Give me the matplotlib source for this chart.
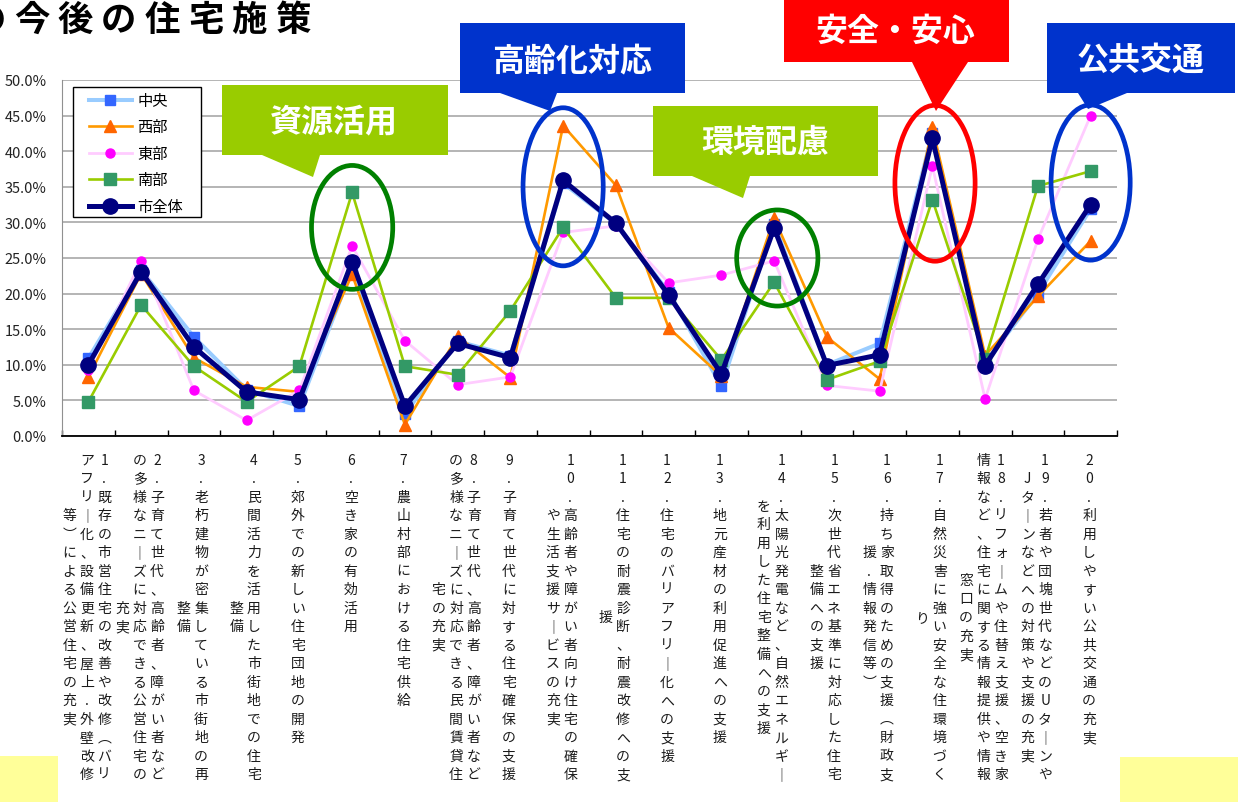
import matplotlib
matplotlib.use('Agg')
import matplotlib.pyplot as plt
from matplotlib.patches import Polygon, Rectangle, Ellipse
from matplotlib.lines import Line2D

plt.rcParams['font.family'] = ['Noto Sans CJK JP', 'DejaVu Sans']

W, H = 1238, 803

# x categories (vertical labels under the axis)
labels = [
    '1．既存の市営住宅の改善や改修（バリアフリー化、設備更新、屋上・外壁改修等）による公営住宅の充実',
    '2．子育て世代、高齢者、障がい者などの多様なニーズに対応できる公営住宅の充実',
    '3．老朽建物が密集している市街地の再整備',
    '4．民間活力を活用した市街地での住宅整備',
    '5．郊外での新しい住宅団地の開発',
    '6．空き家の有効活用',
    '7．農山村部における住宅供給',
    '8．子育て世代、高齢者、障がい者などの多様なニーズに対応できる民間賃貸住宅の充実',
    '9．子育て世代に対する住宅確保の支援',
    '10．高齢者や障がい者向け住宅の確保や生活支援サービスの充実',
    '11．住宅の耐震診断、耐震改修への支援',
    '12．住宅のバリアフリー化への支援',
    '13．地元産材の利用促進への支援',
    '14．太陽光発電など、自然エネルギーを利用した住宅整備への支援',
    '15．次世代省エネ基準に対応した住宅整備への支援',
    '16．持ち家取得のための支援（財政支援・情報発信等）',
    '17．自然災害に強い安全な住環境づくり',
    '18．リフォームや住替え支援、空き家情報など、住宅に関する情報提供や情報窓口の充実',
    '19．若者や団塊世代などのUターンやJターンなどへの対策や支援の充実',
    '20．利用しやすい公共交通の充実',
]

# values in %
chuo = [10.9, 23.3, 13.9, 6.5, 4.2, 23.5, 3.1, 13.3, 11.3, 35.5,
        29.8, 20.2, 7.0, 29.8, 10.0, 13.0, 42.5, 10.3, 20.0, 31.9]
seibu = [8.3, 22.8, 11.0, 6.9, 6.2, 22.7, 1.6, 14.0, 8.2, 43.6,
         35.2, 15.2, 8.4, 30.6, 13.9, 8.0, 43.4, 11.3, 19.6, 27.4]
tobu = [9.3, 24.6, 6.4, 2.2, 6.4, 26.7, 13.4, 7.2, 8.3, 28.6,
        29.5, 21.5, 22.6, 24.6, 7.1, 6.3, 37.9, 5.2, 27.6, 45.0]
nanbu = [4.8, 18.4, 9.8, 4.8, 9.8, 34.2, 9.8, 8.6, 17.6, 29.3,
         19.4, 19.4, 10.7, 21.6, 7.9, 10.5, 33.2, 10.8, 35.1, 37.2]
zentai = [10.0, 23.1, 12.5, 6.2, 5.1, 24.5, 4.2, 13.0, 11.0, 35.9,
          29.9, 19.8, 8.7, 29.2, 9.9, 11.4, 41.8, 9.9, 21.3, 32.5]

names = ['中央', '西部', '東部', '南部', '市全体']
values = [chuo, seibu, tobu, nanbu, zentai]
styles = [
    dict(color='#99CCFF', lw=2.9, marker='s', ms=7, mfc='#3366FF', mec='#3366FF'),
    dict(color='#FF9900', lw=1.9, marker='^', ms=8, mfc='#FF6600', mec='#FF6600'),
    dict(color='#FFCCFF', lw=2.0, marker='o', ms=6.5, mfc='#FF00FF', mec='#FF00FF'),
    dict(color='#99CC00', lw=1.9, marker='s', ms=8, mfc='#339966', mec='#339966'),
    dict(color='#000080', lw=3.6, marker='o', ms=11, mfc='#000080', mec='#000080'),
]


def fx(px):
    return px / W


def fy(py):
    return 1 - py / H


fig = plt.figure(figsize=(W / 100, H / 100), dpi=100)
ax = fig.add_axes([fx(62), fy(437), (1117 - 62) / W, (437 - 81) / H])

x = list(range(len(labels)))
for vals, st in zip(values, styles):
    ax.plot(x, vals, **st, zorder=3)

ax.set_xlim(-0.5, len(labels) - 0.5)
ax.set_ylim(0, 50)
ax.set_yticks(range(0, 51, 5))
ax.set_yticklabels([f'{v:.1f}%' for v in range(0, 51, 5)], fontsize=10.5, color='#222222')
ax.tick_params(axis='y', length=0, pad=11)
ax.set_xticks([k - 0.5 for k in range(len(labels) + 1)])
ax.set_xticklabels([])
ax.tick_params(axis='x', direction='in', length=4, width=1, color='black')
ax.grid(axis='y', color='#A0A0A0', lw=1.1)
ax.set_axisbelow(True)
for s in ('top', 'right'):
    ax.spines[s].set_visible(False)
ax.spines['left'].set_color('#909090')
ax.spines['bottom'].set_color('black')
ax.spines['bottom'].set_linewidth(1.3)

# vertical (tategaki) category labels, 18 characters per column, right to left
swap = {'ー': '｜', '（': '︵', '）': '︶', '．': '.', '・': '.'}
for i, lab in enumerate(labels):
    chars = [swap.get(c, c) for c in lab]
    cols = [chars[k:k + 18] for k in range(0, len(chars), 18)]
    n = len(cols)
    for k, col in enumerate(cols):
        dx = ((n - 1) / 2 - k) * 17.5 - 1.5
        start = 0 if n == 1 else (18 - len(col)) / 2
        for r, ch in enumerate(col):
            dy = -(23.7 + 18.5 * (start + r))
            ax.annotate(ch, xy=(i, 0), xycoords=('data', 'axes fraction'),
                        xytext=(dx, dy), textcoords='offset pixels',
                        ha='center', va='center', fontsize=10, color='#1a1a1a',
                        annotation_clip=False)

# highlight ellipses around the peaks
ellipses = [(5, 29.3, 1.54, 17.4, '#008000'),
            (9, 35.0, 1.52, 22.2, '#0033CC'),
            (13.06, 25.0, 1.54, 13.5, '#008000'),
            (16.05, 35.5, 1.52, 21.9, '#FF0000'),
            (19.0, 35.6, 1.5, 21.8, '#0033CC')]
for cx, cy, w, h, c in ellipses:
    ax.add_patch(Ellipse((cx, cy), w, h, fill=False, edgecolor=c, lw=3.4, zorder=5, clip_on=False))

# legend with its own frame
handles = [Line2D([], [], **st) for st in styles]
fig.add_artist(Rectangle((fx(73), fy(218)), (201 - 73) / W, (218 - 88) / H,
                         transform=fig.transFigure, facecolor='white',
                         edgecolor='black', lw=1, zorder=4))
fig.legend(handles, names, loc='upper left', bbox_to_anchor=(fx(89), fy(93)),
           frameon=False, borderpad=0, borderaxespad=0, handlelength=2.8,
           handletextpad=0.35, labelspacing=0.62, fontsize=11)

# callouts: text, colour, box (x0, y0, x1, y1), pointer (base1, base2, tip), text centre
callouts = [
    ('資源活用', '#99CC00', (222, 86, 448, 156), (262, 320, (313, 178)), (334, 122)),
    ('高齢化対応', '#0033CC', (460, 24, 685, 94), (500, 557, (550, 112)), (572, 61)),
    ('環境配慮', '#99CC00', (653, 107, 878, 177), (692, 750, (743, 199)), (765, 143)),
    ('安全・安心', '#FF0000', (784, -2, 1009, 63), (912, 968, (936, 112)), (895, 32)),
    ('公共交通', '#0033CC', (1047, 24, 1235, 94), (1078, 1127, (1088, 110)), (1141, 61)),
]
for txt, c, (x0, y0, x1, y1), (b1, b2, tip), (tx, ty) in callouts:
    pts = [(x0, y0), (x1, y0), (x1, y1), (b2, y1), tip, (b1, y1), (x0, y1)]
    fig.add_artist(Polygon([(fx(a), fy(b)) for a, b in pts], closed=True,
                           transform=fig.transFigure, facecolor=c, edgecolor='none', zorder=6))
    fig.text(fx(tx), fy(ty), txt, color='white', fontsize=23, fontweight='bold',
             ha='center', va='center', zorder=7)

# page title (its first character runs off the left edge, as on the slide)
title = 'の今後の住宅施策'
for k, ch in enumerate(title):
    fig.text(fx(-12 + 43.5 * k), fy(20), ch, fontsize=25.5, fontweight='bold',
             ha='center', va='center', color='black')

# yellow page decorations at the bottom
fig.add_artist(Rectangle((fx(0), fy(803)), 58 / W, 46 / H, transform=fig.transFigure,
                         facecolor='#FFFF99', edgecolor='none', zorder=1))
fig.add_artist(Rectangle((fx(1120), fy(803)), 118 / W, 45 / H, transform=fig.transFigure,
                         facecolor='#FFFF99', edgecolor='none', zorder=1))

fig.savefig('out.png', dpi=100)
